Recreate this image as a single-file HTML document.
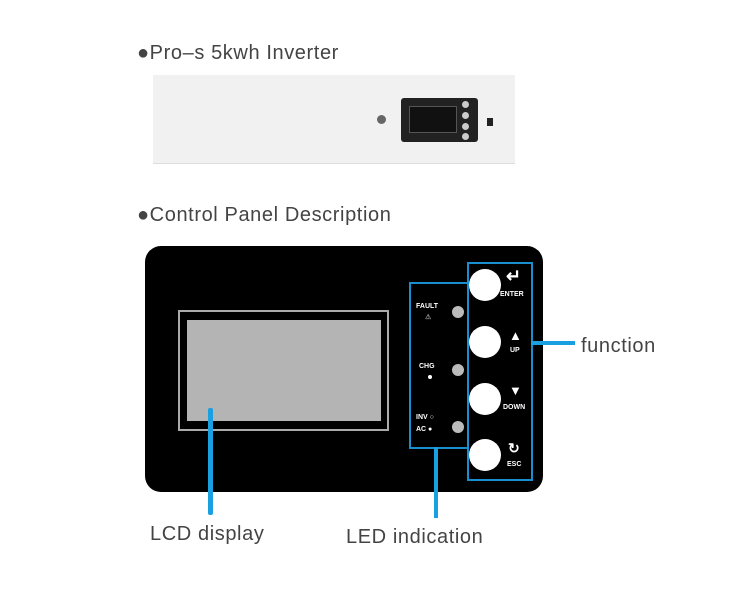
<!DOCTYPE html>
<html><head><style>
body{margin:0;width:750px;height:600px;background:#fff;position:relative;overflow:hidden;font-family:"Liberation Sans",sans-serif}
.a{position:absolute}
.t{position:absolute;color:#444;font-size:20px;letter-spacing:0.6px;white-space:nowrap}
.s{position:absolute;color:#fff;font-size:7px;font-weight:bold;white-space:nowrap}
.btn{position:absolute;width:32px;height:32px;border-radius:50%;background:#fff;left:469px}
.led{position:absolute;width:12px;height:12px;border-radius:50%;background:#bbb;left:452px}
.bl{position:absolute;background:#1a9fe0}
</style></head><body>
<div class="t" style="left:137px;top:42px;">●Pro–s 5kwh Inverter</div>
<div class="a" style="left:153px;top:75px;width:362px;height:88px;background:#f1f1f1;border-bottom:1px solid #ddd"></div>
<div class="a" style="left:377px;top:115px;width:9px;height:9px;border-radius:50%;background:#666"></div>
<div class="a" style="left:401px;top:98px;width:77px;height:44px;background:#222;border-radius:3px"></div>
<div class="a" style="left:409px;top:106px;width:46px;height:25px;background:#111;border:1px solid #555"></div>
<div class="a" style="left:462px;top:101px;width:7px;height:7px;border-radius:50%;background:#ccc"></div>
<div class="a" style="left:462px;top:112px;width:7px;height:7px;border-radius:50%;background:#ccc"></div>
<div class="a" style="left:462px;top:123px;width:7px;height:7px;border-radius:50%;background:#ccc"></div>
<div class="a" style="left:462px;top:133px;width:7px;height:7px;border-radius:50%;background:#ccc"></div>
<div class="a" style="left:487px;top:118px;width:6px;height:8px;background:#222"></div>

<div class="t" style="left:137px;top:204px;">●Control Panel Description</div>
<div class="a" style="left:145px;top:246px;width:398px;height:246px;background:#000;border-radius:16px"></div>
<div class="a" style="left:178px;top:310px;width:207px;height:117px;border:2px solid #aaa"></div>
<div class="a" style="left:187px;top:320px;width:194px;height:101px;background:#b4b4b4"></div>
<div class="bl" style="left:208px;top:408px;width:5px;height:107px;border-radius:2px"></div>

<div class="a" style="left:409px;top:282px;width:56px;height:163px;border:2px solid #1a8fd0"></div>
<div class="a" style="left:467px;top:262px;width:62px;height:215px;border:2px solid #1a8fd0"></div>
<div class="bl" style="left:434px;top:447px;width:4px;height:71px"></div>
<div class="bl" style="left:531px;top:341px;width:44px;height:4px"></div>

<div class="btn" style="top:269px"></div>
<div class="btn" style="top:326px"></div>
<div class="btn" style="top:383px"></div>
<div class="btn" style="top:439px"></div>
<div class="s" style="left:506px;top:266px;font-size:18px">↵</div>
<div class="s" style="left:500px;top:291px">ENTER</div>
<div class="s" style="left:509px;top:328px;font-size:13px">▲</div>
<div class="s" style="left:510px;top:347px">UP</div>
<div class="s" style="left:509px;top:383px;font-size:13px">▼</div>
<div class="s" style="left:503px;top:404px">DOWN</div>
<div class="s" style="left:508px;top:440px;font-size:14px">↻</div>
<div class="s" style="left:507px;top:461px">ESC</div>

<div class="led" style="top:306px"></div>
<div class="led" style="top:364px"></div>
<div class="led" style="top:421px"></div>
<div class="s" style="left:416px;top:303px">FAULT</div>
<div class="s" style="left:425px;top:313px;color:#888">⚠</div>
<div class="s" style="left:419px;top:363px">CHG</div>
<div class="a" style="left:428px;top:375px;width:4px;height:4px;border-radius:50%;background:#fff"></div>
<div class="s" style="left:416px;top:414px">INV ○</div>
<div class="s" style="left:416px;top:426px">AC ●</div>

<div class="t" style="left:581px;top:335px;">function</div>
<div class="t" style="left:150px;top:523px;">LCD display</div>
<div class="t" style="left:346px;top:526px;">LED indication</div>
</body></html>
